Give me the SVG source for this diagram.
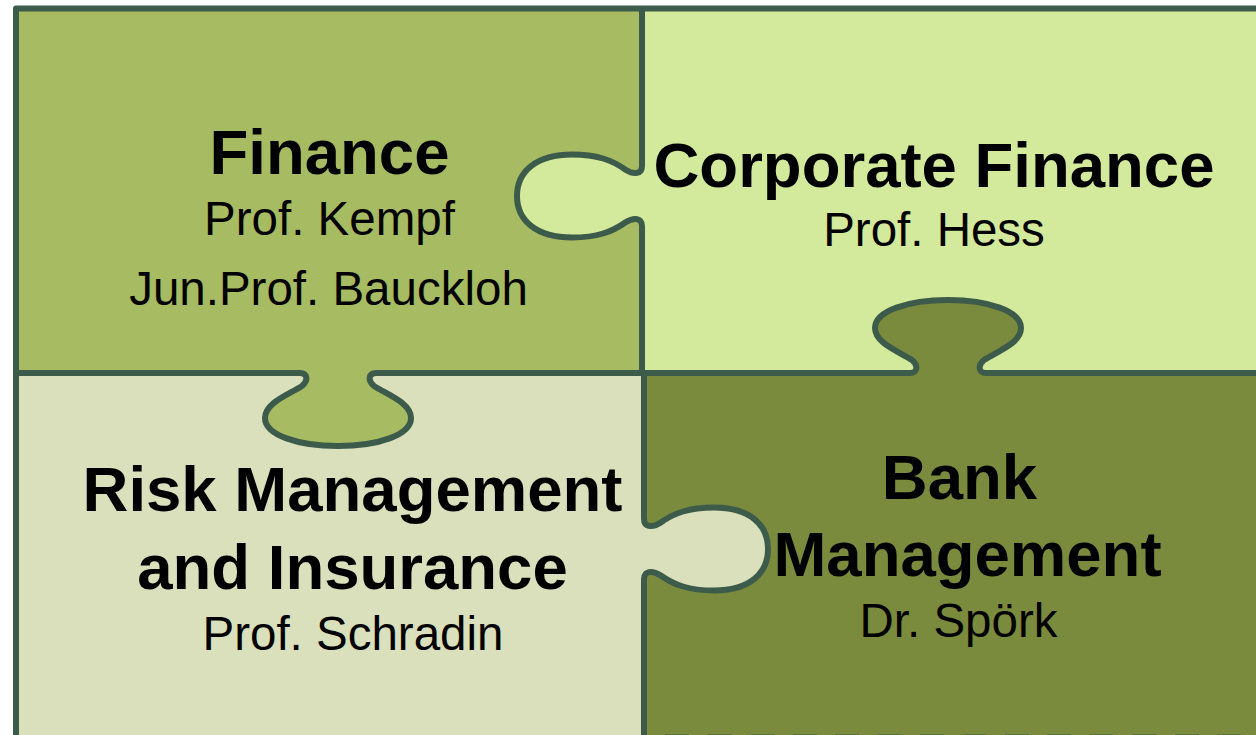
<svg xmlns="http://www.w3.org/2000/svg" width="1256" height="735" viewBox="0 0 1256 735">
<style>
.title{font-family:"Liberation Sans",Arial,sans-serif;font-weight:bold;font-size:63.5px;fill:#000;text-anchor:middle}
.sub{font-family:"Liberation Sans",Arial,sans-serif;font-size:47.5px;fill:#000;text-anchor:middle}
.edge{fill:none;stroke:#3D5B4B;stroke-width:6;stroke-linejoin:round;stroke-linecap:butt}
</style>
<rect x="0" y="0" width="1256" height="735" fill="#fff"/>
<g id="risk-management">
<path fill="#D9E0BB" d="M16,373 H300 C307,373 309,380 302,386 C288,395 265,403 265,418 C265,435 298,446 338,446 C378,446 411,435 411,418 C411,403 388,395 374,386 C367,380 369,373 376,373 H644 V519 C644,527 652,528 660,523 C674,513 689,507.5 714,507.5 C749,507.5 768,524 768,549 C768,574 749,590.5 714,590.5 C689,590.5 674,585 660,575 C652,570 644,571 644,579 V743 H16 Z"/>
<text class="title" x="352.5" y="511">Risk Management</text>
<text class="title" x="352.5" y="589">and Insurance</text>
<text class="sub" x="353" y="650">Prof. Schradin</text>
</g>
<g id="finance">
<path fill="#A6BB62" d="M16,8 H642 V166 C642,174 634,175 626,170 C612,160 597,154.5 572,154.5 C537,154.5 517,171 517,196 C517,221 537,237.5 572,237.5 C597,237.5 612,232 626,222 C634,217 642,218 642,226 V373 H376 C369,373 367,380 374,386 C388,395 411,403 411,418 C411,435 378,446 338,446 C298,446 265,435 265,418 C265,403 288,395 302,386 C309,380 307,373 300,373 H16 Z"/>
<text class="title" x="329.5" y="174">Finance</text>
<text class="sub" x="329.5" y="235">Prof. Kempf</text>
<text class="sub" x="328.5" y="305">Jun.Prof. Bauckloh</text>
</g>
<g id="corporate-finance">
<path fill="#D3E99B" d="M642,8 H1262 V373 H986 C979,373 977,366 984,360 C998,351 1021,343 1021,328 C1021,311 988,300 948,300 C908,300 875,311 875,328 C875,343 898,351 912,360 C919,366 917,373 910,373 H642 V226 C642,218 634,217 626,222 C612,232 597,237.5 572,237.5 C537,237.5 517,221 517,196 C517,171 537,154.5 572,154.5 C597,154.5 612,160 626,170 C634,175 642,174 642,166 V8 Z"/>
<text class="title" x="934" y="187">Corporate Finance</text>
<text class="sub" x="934" y="246">Prof. Hess</text>
</g>
<g id="bank-management">
<path fill="#7A8B3E" d="M644,373 H910 C917,373 919,366 912,360 C898,351 875,343 875,328 C875,311 908,300 948,300 C988,300 1021,311 1021,328 C1021,343 998,351 984,360 C977,366 979,373 986,373 H1262 V743 H644 V579 C644,571 652,570 660,575 C674,585 689,590.5 714,590.5 C749,590.5 768,574 768,549 C768,524 749,507.5 714,507.5 C689,507.5 674,513 660,523 C652,528 644,527 644,519 Z"/>
<text class="title" x="959.5" y="499">Bank</text>
<text class="title" x="967.5" y="576">Management</text>
<text class="sub" x="958.5" y="637">Dr. Spörk</text>
</g>
<g id="connectors">
<path class="edge" d="M16,743 V8.5 H1262"/>
<path class="edge" d="M642,8 V166 C642,174 634,175 626,170 C612,160 597,154.5 572,154.5 C537,154.5 517,171 517,196 C517,221 537,237.5 572,237.5 C597,237.5 612,232 626,222 C634,217 642,218 642,226 V373"/>
<path class="edge" d="M644,373 V519 C644,527 652,528 660,523 C674,513 689,507.5 714,507.5 C749,507.5 768,524 768,549 C768,574 749,590.5 714,590.5 C689,590.5 674,585 660,575 C652,570 644,571 644,579 V743"/>
<path class="edge" d="M16,373 H300 C307,373 309,380 302,386 C288,395 265,403 265,418 C265,435 298,446 338,446 C378,446 411,435 411,418 C411,403 388,395 374,386 C367,380 369,373 376,373 H644"/>
<path class="edge" d="M642,373 H910 C917,373 919,366 912,360 C898,351 875,343 875,328 C875,311 908,300 948,300 C988,300 1021,311 1021,328 C1021,343 998,351 984,360 C977,366 979,373 986,373 H1262"/>
<path class="edge" d="M665,737.5 H1262" stroke-dasharray="24 18.5"/>
</g>
</svg>
